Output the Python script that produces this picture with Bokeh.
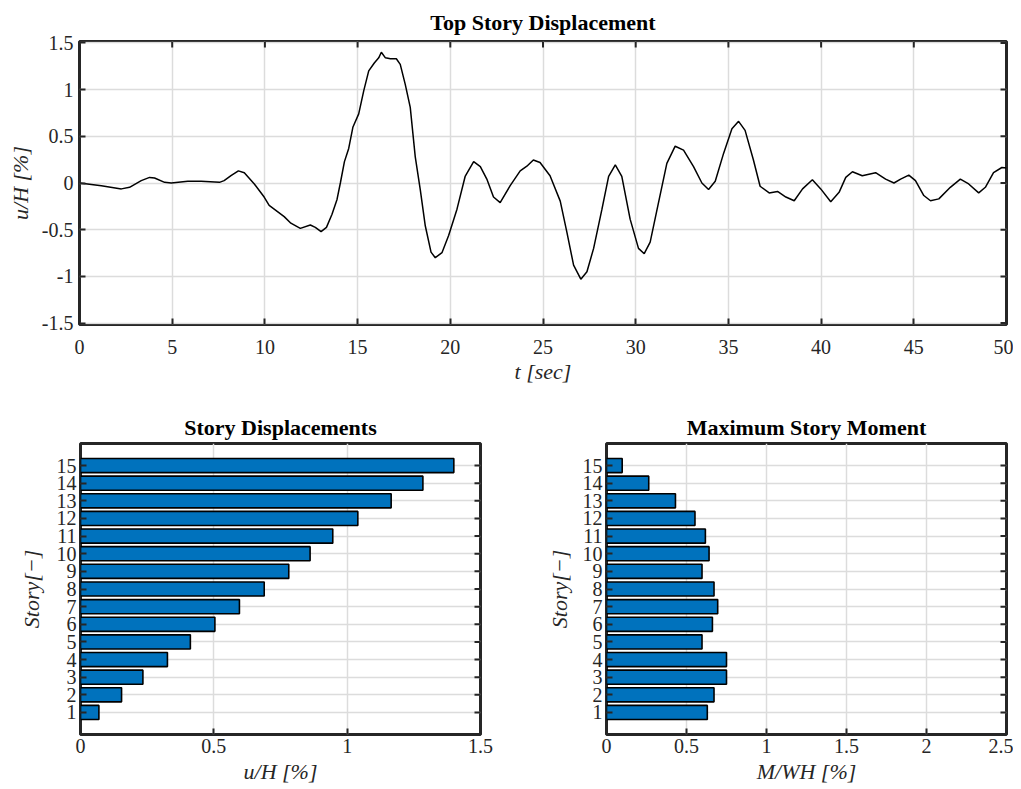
import math
from bokeh.plotting import figure
from bokeh.models import FixedTicker, Range1d, CustomJSTickFormatter
from bokeh.layouts import column, row
from bokeh.embed import file_html
from bokeh.resources import INLINE

# ---------------- data ----------------
time_sec = [0, 1.18, 2.26, 2.7, 3.33, 3.78, 4.05, 4.59, 4.95, 5.84, 6.56, 7.55, 7.8, 8.17, 8.57,
            8.89, 9.43, 9.96, 10.23, 10.5, 11.04, 11.4,
            11.91, 12.45, 12.72, 13.03, 13.32, 13.62, 13.89, 14.07, 14.29, 14.52, 14.75, 15.06,
            15.33, 15.6, 15.9, 16.14, 16.28, 16.5, 16.77, 17.09, 17.3, 17.57, 17.84, 18.11, 18.38,
            18.65, 18.96, 19.19, 19.55, 19.91, 20.36, 20.8, 21.26, 21.62,
            21.97, 22.33, 22.69, 23.23, 23.77, 24.13, 24.48, 24.84, 25.38,
            25.93, 26.29, 26.65, 27.04, 27.37, 27.73, 28.18, 28.54, 28.9, 29.25, 29.7, 30.15,
            30.46, 30.78, 31.23, 31.68, 32.13, 32.58, 33.12, 33.57, 33.93, 34.29, 34.74, 35.19,
            35.55, 35.9, 36.35, 36.71,
            37.2, 37.65, 38.1, 38.55, 39.0, 39.53, 39.98, 40.52, 40.97, 41.33, 41.69, 42.22, 42.94,
            43.48, 43.93, 44.29, 44.73, 45.09, 45.54, 45.9, 46.35, 46.97, 47.51, 47.96, 48.5,
            48.86, 49.3, 49.75, 50.0]
top_disp = [0, -0.03, -0.063, -0.046, 0.025, 0.06, 0.053, 0.007, 0.0, 0.02, 0.02, 0.007, 0.025,
            0.078, 0.13, 0.11, -0.01, -0.15, -0.24, -0.28, -0.36, -0.43,
            -0.486, -0.45, -0.475, -0.52, -0.475, -0.335, -0.176, 0.0, 0.229, 0.37, 0.6, 0.74,
            0.986, 1.2, 1.285, 1.34, 1.40, 1.34, 1.33, 1.33, 1.27, 1.056, 0.81, 0.28, -0.07,
            -0.458, -0.74, -0.80, -0.746, -0.563, -0.28, 0.07, 0.229, 0.176,
            0.042, -0.15, -0.21, -0.028, 0.13, 0.18, 0.247, 0.22, 0.078,
            -0.194, -0.528, -0.88, -1.03, -0.95, -0.70, -0.28, 0.07, 0.194, 0.07, -0.387, -0.70,
            -0.757, -0.634, -0.21, 0.21, 0.394, 0.352, 0.176, 0.0, -0.07, 0.018, 0.317, 0.58,
            0.66, 0.563, 0.246, -0.035,
            -0.106, -0.09, -0.15, -0.19, -0.063, 0.035, -0.063, -0.2, -0.1, 0.06, 0.12, 0.078, 0.11,
            0.042, 0.0, 0.042, 0.085, 0.025, -0.134, -0.19, -0.17, -0.046, 0.042, -0.01, -0.106,
            -0.046, 0.11, 0.166, 0.16]

stories = list(range(1, 16))
story_disp = [0.069, 0.154, 0.234, 0.326, 0.412, 0.504, 0.596, 0.689, 0.781, 0.861, 0.946,
              1.04, 1.165, 1.284, 1.40]
story_moment = [0.630, 0.672, 0.750, 0.750, 0.597, 0.662, 0.695, 0.672, 0.597, 0.641, 0.618,
                0.553, 0.431, 0.264, 0.098]

time_ticks = [0, 5, 10, 15, 20, 25, 30, 35, 40, 45, 50]
disp_ticks = [-1.5, -1, -0.5, 0, 0.5, 1, 1.5]
sd_ticks = [0, 0.5, 1, 1.5]
sm_ticks = [0, 0.5, 1, 1.5, 2, 2.5]

# ---------------- style ----------------
SERIF = "Liberation Serif"
AX = "#262626"
GRID = "#dcdcdc"
BAR = "#0072BD"
TICK_LEN = 6


def style_axis(ax, ticks, label, tick_standoff, label_standoff):
    ax.ticker = FixedTicker(ticks=ticks)
    ax.formatter = CustomJSTickFormatter(code="return tick.toString();")
    ax.axis_line_color = None
    ax.major_tick_in = TICK_LEN
    ax.major_tick_out = 0
    ax.major_tick_line_width = 2
    ax.major_tick_line_color = AX
    ax.minor_tick_line_color = None
    ax.major_label_text_font = SERIF
    ax.major_label_text_color = AX
    ax.major_label_text_font_size = "20px"
    ax.major_label_standoff = tick_standoff
    ax.axis_label = label
    ax.axis_label_text_font = SERIF
    ax.axis_label_text_font_size = "22px"
    ax.axis_label_text_font_style = "italic"
    ax.axis_label_text_color = AX
    ax.axis_label_standoff = label_standoff


def style_fig(p, xticks, yticks, title, xlabel, ylabel, xr, yr, top_ticks=True,
              xs=(10, 6), ys=(6, 6), title_standoff=8):
    p.outline_line_color = AX
    p.outline_line_width = 3
    p.title.text = title
    p.title.align = "center"
    p.title.text_font = SERIF
    p.title.text_font_size = "22px"
    p.title.text_font_style = "bold"
    p.title.text_color = "black"
    p.title.standoff = title_standoff
    style_axis(p.xaxis[0], xticks, xlabel, *xs)
    style_axis(p.yaxis[0], yticks, ylabel, *ys)
    p.xgrid.ticker = FixedTicker(ticks=xticks)
    p.ygrid.ticker = FixedTicker(ticks=yticks)
    for g in (p.xgrid[0], p.ygrid[0]):
        g.grid_line_color = GRID
        g.grid_line_width = 1.5
    # inward tick marks on the right edge (and top edge) of the box
    p.ray(x=[xr[1]] * len(yticks), y=yticks, length=TICK_LEN, length_units="screen",
          angle=math.pi, line_color=AX, line_width=2)
    if top_ticks:
        p.ray(x=xticks, y=[yr[1]] * len(xticks), length=TICK_LEN, length_units="screen",
              angle=-math.pi / 2, line_color=AX, line_width=2)


# ---------------- top plot ----------------
t_range = (0, 50)
d_range = (-1.515, 1.515)
p1 = figure(width=1013, height=386, x_range=Range1d(*t_range), y_range=Range1d(*d_range),
            output_backend="svg", toolbar_location=None,
            min_border_left=79, min_border_right=7, min_border_top=41, min_border_bottom=58)
style_fig(p1, time_ticks, disp_ticks, "Top Story Displacement", "t [sec]", "u/H [%]",
          t_range, d_range, top_ticks=True, xs=(15, 2), ys=(6, 6), title_standoff=14)
p1.line(time_sec, top_disp, line_color="black", line_width=1.5)

# ---------------- bottom left ----------------
s_range = (-0.25, 16.25)
sd_range = (0, 1.5)
p2 = figure(width=520, height=400, x_range=Range1d(*sd_range), y_range=Range1d(*s_range),
            output_backend="svg", toolbar_location=None,
            min_border_left=80, min_border_right=40, min_border_top=57, min_border_bottom=52)
style_fig(p2, sd_ticks, stories, "Story Displacements", "u/H [%]", "Story[−]",
          sd_range, s_range, top_ticks=False, xs=(4, 3), ys=(4, 10))
p2.hbar(y=stories, right=story_disp, left=0, height=0.8, fill_color=BAR,
        line_color="black", line_width=1.6)

# ---------------- bottom right ----------------
sm_range = (0, 2.5)
p3 = figure(width=493, height=400, x_range=Range1d(*sm_range), y_range=Range1d(*s_range),
            output_backend="svg", toolbar_location=None,
            min_border_left=86, min_border_right=7, min_border_top=57, min_border_bottom=52)
style_fig(p3, sm_ticks, stories, "Maximum Story Moment", "M/WH [%]", "Story[−]",
          sm_range, s_range, top_ticks=False, xs=(4, 3), ys=(4, 8))
p3.hbar(y=stories, right=story_moment, left=0, height=0.8, fill_color=BAR,
        line_color="black", line_width=1.6)

layout = column(p1, row(p2, p3))
open("out.html", "w").write(file_html(layout, INLINE))
